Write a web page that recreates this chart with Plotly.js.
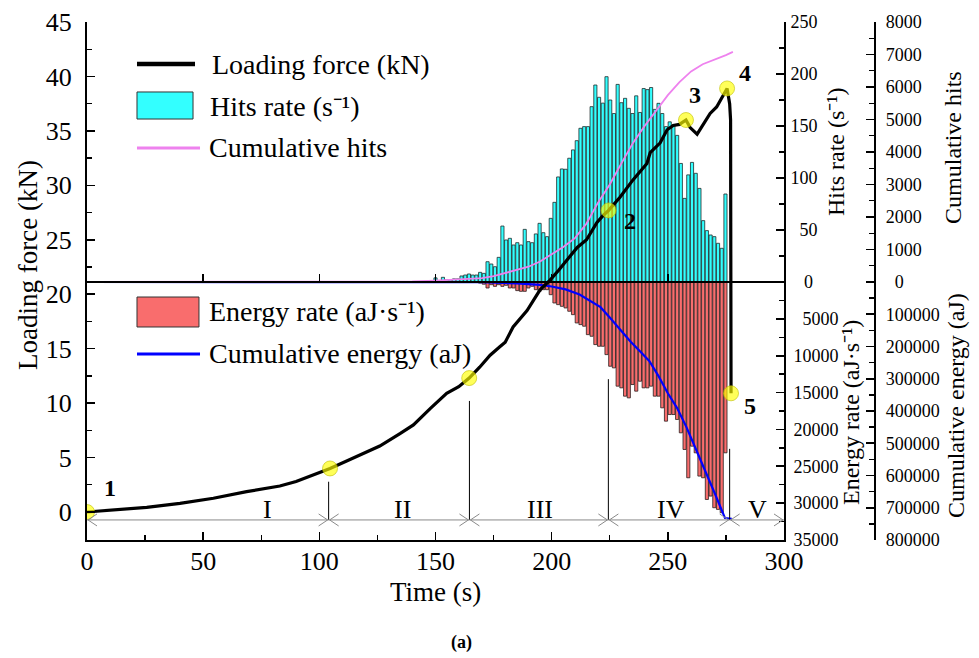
<!DOCTYPE html>
<html><head><meta charset="utf-8">
<script src="https://cdn.plot.ly/plotly-3.0.1.min.js"></script>
<style>html,body{margin:0;padding:0;background:#fff}</style>
</head><body>
<div id="chart" style="width:979px;height:658px"></div>
<script>
// ---- data ----
const binTime = [150.0,151.6,153.2,154.8,156.4,158.0,159.6,161.2,162.8,164.4,166.0,167.6,169.2,170.8,172.4,174.0,175.6,177.2,178.8,180.4,182.0,183.6,185.2,186.8,188.4,190.0,191.6,193.2,194.8,196.4,198.0,199.6,201.2,202.8,204.4,206.0,207.6,209.2,210.8,212.4,214.0,215.6,217.2,218.8,220.4,222.0,223.6,225.2,226.8,228.4,230.0,231.6,233.2,234.8,236.4,238.0,239.6,241.2,242.8,244.4,246.0,247.6,249.2,250.8,252.4,254.0,255.6,257.2,258.8,260.4,262.0,263.6,265.2,266.8,268.4,270.0,271.6,273.2,274.8];
const hitsRate = [4,0,4.5,2,2,3,3,5.8,6.7,7.7,6.7,6.7,9.3,8.3,19.5,17.3,14.7,23.7,53.8,40.4,42,35.6,37.8,35.6,50.6,38.8,37.8,46.2,56.4,47.4,43.6,61.2,76.6,101,108.7,108.4,119,127,135.9,147.8,149.4,149.4,168.6,189.4,177.6,172,197.4,175,162,190,172.4,176.6,167,162,179,163,186,185,187,166,171.8,162,149.4,154,151,141,114,80.4,103,115,104.5,90,59,49.4,45.2,43.6,37.2,32.4,84.6];
const energyRate = [0,0,0,0,0,0,0,0,0,0,0,0,150,300,813,365,590,365,590,450,813,813,1170,1265,1265,813,590,1040,1265,1040,1040,1720,2845,3070,3300,3520,3970,4430,5555,5780,6000,7140,7360,8490,8720,8720,9850,11430,11650,14130,14360,15490,15720,13910,14810,13460,14360,14360,14130,15490,15490,17070,18880,17980,17980,18650,20460,22720,26560,22270,23170,26330,26560,29500,29040,30620,30850,31300,23170];
const cumHitsTime = [0,50,100,140,150,160,170,175,180,185,190,195,200,205,210,215,220,225,230,235,240,245,250,255,260,265,270,275,278];
const cumHits = [0,0,5,15,40,70,120,180,270,370,470,630,860,1080,1350,1800,2450,3000,3650,4280,4800,5290,5750,6150,6480,6700,6830,6980,7080];
const cumEnergyTime = [0,100,150,170,185,195,200,206,212,217,221,225,230,234,238,242,246,250,254,258,262,266,270,274.6,277.5];
const cumEnergy = [0,0,200,800,4000,9000,14000,23000,39000,60000,78000,110000,153000,185000,215000,245000,292000,345000,391000,450000,517000,583000,652000,732000,734000];
const forceTime = [0,10,25.7,40,54.4,68.7,83,90,97.4,104.6,112,119,126,134.7,140.5,147.7,154.8,160,164.5,169,173.5,177.8,180,183.4,189.4,195,199.3,203,206.6,211,215,219.5,222,224.5,229.4,235,241,242.4,246.7,249.7,252.3,255,257.8,259.6,262.6,265,268.2,271,273.5,275.5,276.6,277,277.2];
const force = [0,0.17,0.43,0.8,1.26,1.87,2.39,2.8,3.4,4.0,4.7,5.4,6.06,7.2,8.0,9.5,10.9,11.5,12.3,13.3,14.4,15.2,15.6,17.0,18.5,20.4,21.3,22.2,23.1,24.3,25.0,26.6,27.2,27.7,28.9,30.5,32.0,33.0,33.9,35.1,35.5,35.6,36.0,35.3,34.7,35.5,36.6,37.2,38.1,38.9,37.5,36.0,10.9];
const keyTime = [0,104.6,164.5,224.5,257.8,275.5,277.2];
const keyForce = [0,4.0,12.3,27.7,36.0,38.9,10.9];
const keyLabels = ['1','','','2','3','4','5'];
const stageBounds = [0,104,164.6,224.4,276.6,300];
const stageNames = ['I','II','III','IV','V'];
const stageLabelTime = [77.9,135.8,195,251.4,288.4];
const hitsTicks = [0,50,100,150,200,250];
const energyTicks = [5000,10000,15000,20000,25000,30000,35000];
const cumHitsTicks = [0,1000,2000,3000,4000,5000,6000,7000,8000];
const cumEnergyTicks = [100000,200000,300000,400000,500000,600000,700000,800000];

// ---- styling ----
const FONT = 'Liberation Serif, Times New Roman, serif';
const FS = '\u2007';
const SUP = '\u207b\u00b9';
const cyan = '#33ffff', red = '#f96d6d', pink = '#ee82ee', blue = '#0000ff';

const traces = [
  {type:'bar', x:binTime, y:hitsRate, xaxis:'x', yaxis:'y', width:1.35,
   marker:{color:cyan, line:{color:'#1e2a2a', width:0.8}}, name:'Hits rate'},
  {type:'bar', x:binTime, y:energyRate, xaxis:'x', yaxis:'y2', width:1.35,
   marker:{color:red, line:{color:'#2a1e1e', width:0.8}}, name:'Energy rate'},
  {type:'scatter', mode:'lines', x:cumHitsTime, y:cumHits, xaxis:'x2', yaxis:'y3',
   line:{color:pink, width:1.8}, name:'Cumulative hits'},
  {type:'scatter', mode:'lines', x:cumEnergyTime, y:cumEnergy, xaxis:'x2', yaxis:'y4',
   line:{color:blue, width:2.2}, name:'Cumulative energy'},
  {type:'scatter', mode:'lines', x:forceTime, y:force, xaxis:'x2', yaxis:'y5',
   line:{color:'#000', width:3.2}, name:'Loading force'},
  {type:'scatter', mode:'markers', x:keyTime, y:keyForce, xaxis:'x2', yaxis:'y5',
   marker:{size:15, color:'rgba(255,255,0,0.65)', line:{color:'rgba(190,190,0,0.6)', width:1}}, name:'Key points'}
];

const tickFontR = {family:FONT, size:18, color:'#000'};
const common = {showgrid:false, zeroline:false, showline:true, linecolor:'#000', linewidth:2,
  ticks:'inside', ticklen:8, tickwidth:1.6, tickcolor:'#000'};

const layout = {
  width:979, height:658,
  margin:{l:87, r:30, t:22, b:118},
  paper_bgcolor:'#fff', plot_bgcolor:'rgba(0,0,0,0)',
  showlegend:false, barmode:'overlay',
  font:{family:FONT, color:'#000'},
  xaxis: Object.assign({}, common, {domain:[0,0.8086], range:[0,300], dtick:50, tick0:0, anchor:'y',
    minor:{dtick:25, ticks:'inside', ticklen:5, tickwidth:1.4, tickcolor:'#000'},
    tickfont:{family:FONT, size:26, color:'#000'}, ticklabelstandoff:-3}),
  xaxis2: {overlaying:'x', anchor:'free', position:0.49807, range:[0,300], showline:true, linecolor:'#000', linewidth:2,
    ticks:'inside', ticklen:7, tickwidth:1.4, tickcolor:'#000', dtick:50, tick0:0, showticklabels:false, showgrid:false, zeroline:false},
  yaxis: Object.assign({}, common, {side:'right', anchor:'x', range:[-248.08,250],
    tickmode:'array', tickvals:hitsTicks, ticktext:hitsTicks.map(v=>v===0?FS+' 0':(v<100?FS+v:String(v))),
    minor:{tickmode:'array', tickvals:[25,75,125,175,225], ticks:'inside', ticklen:5, tickwidth:1.4, tickcolor:'#000'},
    tickfont:tickFontR, ticklabelstandoff:1}),
  yaxis2: Object.assign({}, common, {overlaying:'y', side:'right', anchor:'x', range:[35000,-35271],
    tickmode:'array', tickvals:energyTicks, ticktext:energyTicks.map(v=>v<10000?FS+v:String(v)),
    minor:{tickmode:'array', tickvals:[2500,7500,12500,17500,22500,27500,32500], ticks:'inside', ticklen:5, tickwidth:1.4, tickcolor:'#000'},
    tickfont:tickFontR, ticklabelstandoff:4}),
  yaxis3: Object.assign({}, common, {overlaying:'y', side:'right', anchor:'free', position:0.9142, range:[-7938.5,8000],
    tickmode:'array', tickvals:cumHitsTicks, ticktext:cumHitsTicks.map(v=>v===0?FS+'0':String(v)),
    minor:{tickmode:'array', tickvals:[500,1500,2500,3500,4500,5500,6500,7500], ticks:'inside', ticklen:5, tickwidth:1.4, tickcolor:'#000'},
    tickfont:tickFontR, ticklabelstandoff:6}),
  yaxis4: Object.assign({}, common, {overlaying:'y', side:'right', anchor:'free', position:0.9142, range:[800000,-806202],
    tickmode:'array', tickvals:cumEnergyTicks, ticktext:cumEnergyTicks.map(String),
    minor:{tickmode:'array', tickvals:[50000,150000,250000,350000,450000,550000,650000,750000], ticks:'inside', ticklen:5, tickwidth:1.4, tickcolor:'#000'},
    tickfont:tickFontR, ticklabelstandoff:6}),
  yaxis5: Object.assign({}, common, {overlaying:'y', side:'left', anchor:'x', range:[-2.571,45], dtick:5, tick0:0,
    minor:{dtick:2.5, ticks:'inside', ticklen:5, tickwidth:1.4, tickcolor:'#000'},
    tickfont:{family:FONT, size:26, color:'#000'}, ticklabelstandoff:8}),
  shapes:[], annotations:[]
};

// stage dividers and double arrows
const arrowLevel = -0.73;
const dividerTop = [2.78, 10.2, 12.2, 5.8];
const gray = '#8a8a8a';
for (let i=1;i<stageBounds.length-1;i++){
  layout.shapes.push({type:'line', xref:'x', yref:'y5', x0:stageBounds[i], x1:stageBounds[i], y0:arrowLevel, y1:dividerTop[i-1], line:{color:'#000', width:1}});
}
stageNames.forEach((nm,i)=>{
  const a = stageBounds[i], b = stageBounds[i+1];
  layout.shapes.push({type:'line', xref:'x', yref:'y5', x0:a, x1:b, y0:arrowLevel, y1:arrowLevel, line:{color:gray, width:1}});
  layout.shapes.push({type:'path', xref:'x', yref:'y5', xsizemode:'pixel', ysizemode:'pixel', xanchor:a, yanchor:arrowLevel,
    path:'M10,-6L1,0L10,6', line:{color:gray, width:1}});
  layout.shapes.push({type:'path', xref:'x', yref:'y5', xsizemode:'pixel', ysizemode:'pixel', xanchor:b, yanchor:arrowLevel,
    path:'M-10,-6L-1,0L-10,6', line:{color:gray, width:1}});
  layout.annotations.push({xref:'x', yref:'y5', x:stageLabelTime[i], y:0.25, text:nm, showarrow:false, xanchor:'center', yanchor:'middle',
    font:{family:FONT, size:26, color:'#000'}});
});

// key point labels
const keyOffsets = [[23,-24],null,null,[21,11],[9,-25],[18,-15],[19,13]];
keyLabels.forEach((lb,i)=>{
  if(!lb) return;
  layout.annotations.push({xref:'x', yref:'y5', x:keyTime[i], y:keyForce[i], text:lb, showarrow:true,
    arrowcolor:'rgba(0,0,0,0)', ax:keyOffsets[i][0], ay:keyOffsets[i][1], font:{family:FONT, size:24, weight:'bold', color:'#000'}});
});

// custom legend
const legLine = (y, x1, color, w) => layout.shapes.push({type:'line', xref:'paper', yref:'paper', x0:0.058, x1:x1, y0:y, y1:y, line:{color:color, width:w}});
const legBox = (y0, y1, x1, color) => layout.shapes.push({type:'rect', xref:'paper', yref:'paper', x0:0.058, x1:x1, y0:y0, y1:y1, fillcolor:color, line:{color:'#333', width:1}});
const legText = (x, y, t) => layout.annotations.push({xref:'paper', yref:'paper', x:x, y:y, text:t, showarrow:false, xanchor:'left', yanchor:'middle', font:{family:FONT, size:28, color:'#000'}});
legLine(0.9189, 0.1253, '#000', 4.5); legText(0.1427, 0.9189, 'Loading force (kN)');
legBox(0.8127, 0.8649, 0.1230, cyan); legText(0.1404, 0.8378, 'Hits rate (s' + SUP + ')');
legLine(0.7568, 0.1311, pink, 3); legText(0.1392, 0.7568, 'Cumulative hits');
legBox(0.4112, 0.4691, 0.1299, red); legText(0.1392, 0.4402, 'Energy rate (aJ\u00b7s' + SUP + ')');
legLine(0.3591, 0.1311, blue, 3); legText(0.1392, 0.3591, 'Cumulative energy (aJ)');

// axis titles
const vTitle = (x, y, t, size) => layout.annotations.push({xref:'paper', yref:'paper', x:x, y:y, text:t, textangle:-90, showarrow:false, xanchor:'center', yanchor:'middle', font:{family:FONT, size:size, color:'#000'}});
vTitle(-0.0684, 0.5309, 'Loading force (kN)', 27);
vTitle(0.8689, 0.751, 'Hits rate (s' + SUP + ')', 24);
vTitle(0.8863, 0.2471, 'Energy rate (aJ\u00b7s' + SUP + ')', 24);
vTitle(1.0046, 0.7587, 'Cumulative hits', 24);
vTitle(1.0081, 0.2606, 'Cumulative energy (aJ)', 24);
layout.annotations.push({xref:'paper', yref:'paper', x:0.4043, y:-0.1004, text:'Time (s)', showarrow:false, xanchor:'center', yanchor:'middle', font:{family:FONT, size:27, color:'#000'}});
layout.annotations.push({xref:'paper', yref:'paper', x:0.4339, y:-0.1988, text:'(a)', showarrow:false, xanchor:'center', yanchor:'middle', font:{family:FONT, size:18, weight:'bold', color:'#000'}});

Plotly.newPlot('chart', traces, layout, {displayModeBar:false, staticPlot:true}).then(gd => {
  // drop empty placeholder text nodes (unused axis / plot titles)
  gd.querySelectorAll('text').forEach(t => { if (!t.textContent.trim()) t.remove(); });
});
</script>
</body></html>
